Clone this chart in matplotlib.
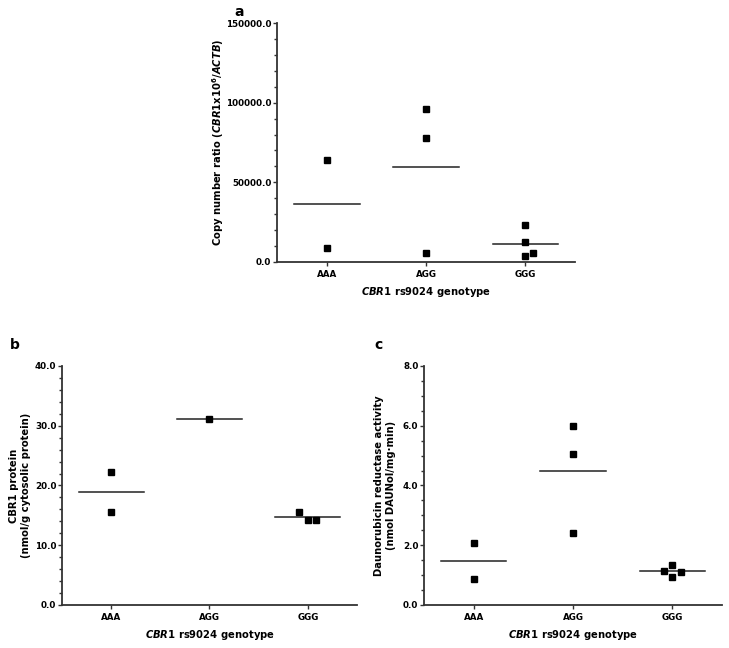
import matplotlib
matplotlib.use("Agg")
import matplotlib.pyplot as plt
from matplotlib.ticker import MultipleLocator, FormatStrFormatter
import numpy as np

genotypes = ["AAA", "AGG", "GGG"]

# panel a: copy number ratio
copy_aaa = [64000, 9000]
copy_agg = [96000, 78000, 5500]
copy_ggg = [23500, 12800, 3500, 5400]

# panel b: CBR1 protein
prot_aaa = [22.2, 15.5]
prot_agg = [31.1]
prot_ggg = [15.5, 14.3, 14.3]

# panel c: daunorubicin reductase activity
act_aaa = [2.09, 0.86]
act_agg = [5.98, 5.07, 2.42]
act_ggg = [1.14, 1.35, 0.95, 1.09]

# horizontal scatter used to avoid overlapping points
jitter_a = [[0, 0], [0, 0, 0], [0, 0, 0, 0.08]]
jitter_b = [[0, 0], [0], [-0.09, 0.0, 0.08]]
jitter_c = [[0, 0], [0, 0, 0], [-0.09, 0.0, 0.0, 0.09]]

plt.rcParams["font.family"] = "DejaVu Sans"
plt.rcParams["font.weight"] = "bold"
plt.rcParams["mathtext.fontset"] = "custom"
plt.rcParams["mathtext.rm"] = "DejaVu Sans:bold"
plt.rcParams["mathtext.it"] = "DejaVu Sans:italic:bold"
plt.rcParams["mathtext.bf"] = "DejaVu Sans:bold"

AXC = "#333333"

fig = plt.figure(figsize=(7.29, 6.48), dpi=100)


def panel(rect, groups, jitter, ymax, major, minor, ylabel, letter, letter_xy, ylab_x):
    ax = fig.add_axes(rect)
    for i, vals in enumerate(groups):
        xs = i + np.array(jitter[i])
        ax.plot(xs, vals, "s", color="black", markersize=5, zorder=3)
        m = np.mean(vals)
        ax.plot([i - 0.33, i + 0.33], [m, m], color="#222222", lw=1.1, zorder=2)
    ax.set_xlim(-0.5, 2.5)
    ax.set_ylim(0, ymax)
    ax.set_xticks(range(3))
    ax.set_xticklabels(genotypes, fontsize=6.3, fontweight="bold")
    ax.yaxis.set_major_locator(MultipleLocator(major))
    ax.yaxis.set_minor_locator(MultipleLocator(minor))
    ax.yaxis.set_major_formatter(FormatStrFormatter("%.1f"))
    for lab in ax.get_yticklabels():
        lab.set_fontsize(6.3)
        lab.set_fontweight("bold")
    for s in ["top", "right"]:
        ax.spines[s].set_visible(False)
    for s in ["left", "bottom"]:
        ax.spines[s].set_color(AXC)
        ax.spines[s].set_linewidth(1.3)
    ax.tick_params(axis="y", which="major", length=3, width=1, color=AXC, pad=1)
    ax.tick_params(axis="y", which="minor", length=2, width=1, color=AXC)
    ax.tick_params(axis="x", length=3, width=1, color=AXC, pad=3)
    ax.set_xlabel(r"$\mathit{CBR1}$ rs9024 genotype", fontsize=7.2, fontweight="bold", labelpad=4)
    ax.set_ylabel(ylabel, fontsize=7.2, fontweight="bold", linespacing=1.3)
    ax.yaxis.set_label_coords(ylab_x, 0.5)
    fig.text(letter_xy[0], letter_xy[1], letter, fontsize=10, fontweight="bold", ha="left", va="center")
    return ax


panel([0.380, 0.5957, 0.409, 0.3688],
      [copy_aaa, copy_agg, copy_ggg], jitter_a, 150000, 50000, 10000,
      r"Copy number ratio ($\mathit{CBR1}$x10$^{6}$/$\mathit{ACTB}$)",
      "a", (0.322, 0.982), -0.17)

panel([0.085, 0.0664, 0.4047, 0.3688],
      [prot_aaa, prot_agg, prot_ggg], jitter_b, 40, 10, 2,
      "CBR1 protein\n(nmol/g cytosolic protein)",
      "b", (0.014, 0.468), -0.105)

panel([0.5816, 0.0664, 0.409, 0.3688],
      [act_aaa, act_agg, act_ggg], jitter_c, 8, 2, 0.5,
      "Daunorubicin reductase activity\n(nmol DAUNol/mg\u00b7min)",
      "c", (0.513, 0.468), -0.093)

fig.savefig("out.png", dpi=100)
